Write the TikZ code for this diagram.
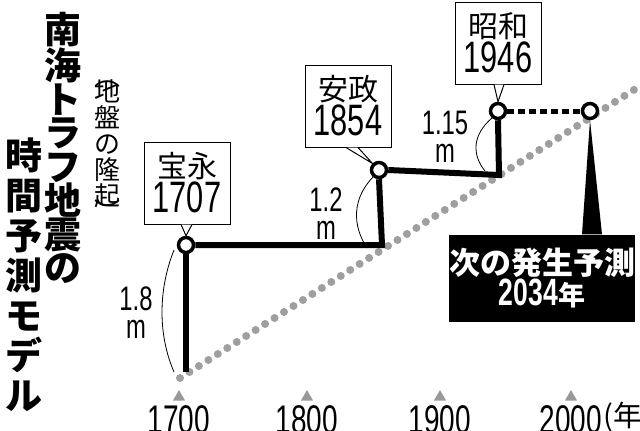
\documentclass[tikz,border=0pt]{standalone}
\usepackage{fontspec}
\usepackage{tikz}
\usetikzlibrary{shapes.geometric}
\newfontfamily\jpfont{Noto Sans CJK JP}
\newfontfamily\numfont[FakeStretch=0.7]{Liberation Sans}
\begin{document}
\begin{tikzpicture}[x=1pt,y=-1pt,%
% common options for the year boxes:
era/.style = {draw, fill=white, line width=1pt, align=center, inner sep=2pt,
            minimum width=86pt, minimum height=82pt},
% common options for the quake circles:
quake/.style = {circle, draw, fill=white, line width=3.5pt, minimum size=15pt, inner sep=0},
tick/.style = {regular polygon, regular polygon sides=3, fill=gray!80, inner sep=0, minimum size=14pt},
year/.style = {font=\numfont\fontsize{40}{40}\selectfont, anchor=north, inner sep=0}]
\useasboundingbox (0,0) rectangle (640,431);

% vertical titles
\node[align=center,font=\jpfont\bfseries\fontsize{37}{33.5}\selectfont,anchor=north,inner sep=0] (T1) at (63,12)
  {南\\海\\ト\\ラ\\フ\\地\\震\\の};
\node[align=center,font=\jpfont\bfseries\fontsize{37}{40}\selectfont,anchor=north,inner sep=0] (T2) at (24,138)
  {時\\間\\予\\測\\モ\\デ\\ル};
\node[align=center,font=\jpfont\fontsize{26}{26}\selectfont,anchor=north,inner sep=0] (T3) at (107,80)
  {︵\\[-10pt]地\\盤\\の\\隆\\起\\[-10pt]︶};

% trend line
\coordinate (L0) at (180,378);
\coordinate (L1) at (640,86);
\draw[gray!75, line width=8pt, line cap=round, dash pattern=on 0pt off 11.2pt] (L0) -- (L1);

% quakes
\coordinate (S0) at (186,372);
\node[quake] (Q1) at (186,245) {};
\node[quake] (Q2) at (379,170) {};
\node[quake] (Q3) at (498,111) {};
\node[quake] (Q4) at (590,111) {};

\draw[line width=6pt] (S0) -- (Q1.south);
\draw[line width=6pt] (Q1.east) -- (382,245) -- (Q2.south);
\draw[line width=6pt] (Q2.east) -- (499,175) -- (Q3.south);
\draw[line width=5pt, dash pattern=on 7pt off 4pt] (Q3.east) -- (Q4.west);

% era boxes
\node[era] (B1) at (187,183) {\jpfont\fontsize{30}{30}\selectfont 宝永\\[1pt]\numfont\fontsize{44}{40}\selectfont 1707};
\node[era] (B2) at (348,106) {\jpfont\fontsize{30}{30}\selectfont 安政\\[1pt]\numfont\fontsize{44}{40}\selectfont 1854};
\node[era] (B3) at (498,43) {\jpfont\fontsize{30}{30}\selectfont 昭和\\[1pt]\numfont\fontsize{44}{40}\selectfont 1946};
\draw[fill=white, line width=1pt] ([xshift=-6pt]B1.south) -- (Q1.north) -- ([xshift=5pt]B1.south);
\draw[fill=white, line width=1pt] ([xshift=-2pt]B2.south) -- (Q2.north west) -- ([xshift=10pt]B2.south);
\draw[fill=white, line width=1pt] ([xshift=-4pt]B3.south) -- (Q3.north) -- ([xshift=6pt]B3.south);

% forecast
\node[fill=black, text=white, align=center, minimum width=184pt, minimum height=87pt, inner sep=0] (F) at (542,278)
  {\jpfont\bfseries\fontsize{31}{32}\selectfont 次の発生予測\\[1pt]\numfont\bfseries\fontsize{38}{36}\selectfont 2034{\jpfont\fontsize{27}{27}\selectfont 年}};
\fill (Q4.south) -- ([xshift=-8pt]F.north -| Q4) -- ([xshift=12pt]F.north -| Q4) -- cycle;

% heights
\draw[line width=0.8pt] (174,250) .. controls (158,290) and (158,335) .. (174,372);
\draw[line width=0.8pt] (374,176) .. controls (352,198) and (352,225) .. (367,248);
\draw[line width=0.8pt] (492,118) .. controls (472,135) and (472,155) .. (485,171);
\node[align=center, font=\numfont\fontsize{34}{28}\selectfont, inner sep=0] (H1) at (136,313) {1.8\\m};
\node[align=center, font=\numfont\fontsize{34}{28}\selectfont, inner sep=0] (H2) at (326,214) {1.2\\m};
\node[align=center, font=\numfont\fontsize{34}{28}\selectfont, inner sep=0] (H3) at (445,137) {1.15\\m};

% axis
\foreach \yr/\px in {1700/179,1800/307,1900/440,2000/571}{
  \node[tick] (K\yr) at (\px,397) {};
  \node[year] (Y\yr) at (\px,405) {\yr};
}
\node[anchor=west, inner sep=0, font=\jpfont\fontsize{29}{29}\selectfont] (U) at ([xshift=1pt,yshift=2pt]Y2000.east) {(年)};
\end{tikzpicture}
\end{document}
